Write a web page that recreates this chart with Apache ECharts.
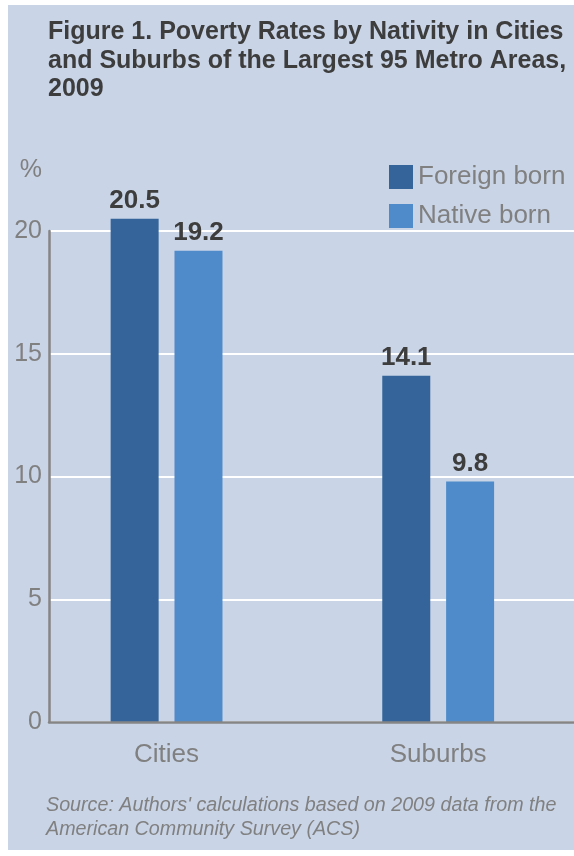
<!DOCTYPE html>
<html>
<head>
<meta charset="utf-8">
<title>Poverty Rates by Nativity</title>
<script src="https://cdn.jsdelivr.net/npm/echarts@6/dist/echarts.min.js"></script>
<style>
  html, body { margin: 0; padding: 0; background: #ffffff; }
  #panel { position: absolute; left: 8px; top: 5px; width: 566px; height: 845px; background: #C9D4E6; }
  #chart { position: absolute; left: 0; top: 0; width: 574px; height: 856px; }
</style>
</head>
<body>
<div id="panel"></div>
<div id="chart"></div>
<script>
// Poverty rates (%) in the largest 95 metro areas, 2009
const categories = ['Cities', 'Suburbs'];
const foreignBorn = [20.5, 14.1];
const nativeBorn = [19.2, 9.8];
const seriesNames = ['Foreign born', 'Native born'];
const yTicks = { min: 0, max: 20, interval: 5 };

const FONT = '"Liberation Sans", Arial, Helvetica, sans-serif';
const GRAY = '#808080';
const DARK = '#3d3d3d';

const chart = echarts.init(document.getElementById('chart'), null, { renderer: 'canvas' });

const barLabel = {
  show: true,
  position: 'top',
  distance: 5,
  fontFamily: FONT,
  fontSize: 26,
  fontWeight: 'bold',
  color: DARK
};

chart.setOption({
  backgroundColor: 'transparent',
  animation: false,
  title: [
    {
      text: 'Figure 1. Poverty Rates by Nativity in Cities\nand Suburbs of the Largest 95 Metro Areas,\n2009',
      left: 48,
      top: 18,
      padding: 0,
      textStyle: { fontFamily: FONT, fontSize: 25, fontWeight: 'bold', color: DARK, lineHeight: 28.5 }
    },
    {
      text: "Source: Authors' calculations based on 2009 data from the\nAmerican Community Survey (ACS)",
      left: 46,
      top: 793,
      padding: 0,
      textStyle: { fontFamily: FONT, fontSize: 19.7, fontStyle: 'italic', fontWeight: 'normal', color: GRAY, lineHeight: 24.5 }
    }
  ],
  legend: {
    orient: 'vertical',
    left: 389,
    top: 164,
    padding: 0,
    icon: 'rect',
    itemWidth: 24,
    itemHeight: 24,
    itemGap: 13,
    data: seriesNames,
    textStyle: { fontFamily: FONT, fontSize: 26, color: GRAY }
  },
  grid: [
    // bar area (category bands)
    { left: 30.75, width: 545, top: 231, height: 491 },
    // axis frame and gridlines
    { left: 49, right: 0, top: 231, height: 491 }
  ],
  xAxis: [
    {
      type: 'category',
      gridIndex: 0,
      data: categories,
      axisLine: { show: false },
      axisTick: { show: false },
      axisLabel: { fontFamily: FONT, fontSize: 26, color: GRAY, margin: 20 }
    },
    {
      type: 'value',
      gridIndex: 1,
      min: 0,
      max: 1,
      z: 5,
      axisLine: { show: true, lineStyle: { color: '#858585', width: 2.5 } },
      axisTick: { show: false },
      axisLabel: { show: false },
      splitLine: { show: false }
    }
  ],
  yAxis: [
    {
      type: 'value',
      gridIndex: 0,
      min: yTicks.min,
      max: yTicks.max,
      interval: yTicks.interval,
      show: false
    },
    {
      type: 'value',
      gridIndex: 1,
      min: yTicks.min,
      max: yTicks.max,
      interval: yTicks.interval,
      name: '%',
      nameLocation: 'end',
      nameGap: 48,
      nameTextStyle: { fontFamily: FONT, fontSize: 25, color: GRAY, align: 'right', padding: [0, 7, 0, 0] },
      axisLine: { show: true, lineStyle: { color: '#858585', width: 2.5 } },
      axisTick: { show: false },
      axisLabel: { fontFamily: FONT, fontSize: 25, color: GRAY, margin: 7 },
      splitLine: { show: true, lineStyle: { color: '#ffffff', width: 2 } }
    }
  ],
  series: [
    {
      name: seriesNames[0],
      type: 'bar',
      xAxisIndex: 0,
      yAxisIndex: 0,
      data: foreignBorn,
      barWidth: 48,
      barGap: '33%',
      clip: false,
      itemStyle: { color: '#34649A' },
      label: barLabel
    },
    {
      name: seriesNames[1],
      type: 'bar',
      xAxisIndex: 0,
      yAxisIndex: 0,
      data: nativeBorn,
      barWidth: 48,
      barGap: '33%',
      clip: false,
      itemStyle: { color: '#4F8BCA' },
      label: barLabel
    }
  ]
});
</script>
</body>
</html>
